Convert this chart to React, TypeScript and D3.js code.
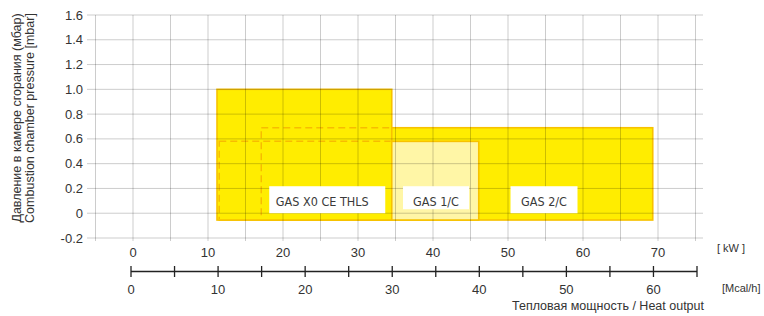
import React, { useRef, useEffect } from "react";
import * as d3 from "d3";

// burner working fields
const models = ["GAS 2/C", "GAS 1/C", "GAS X0 CE THLS"];
const minKw = [17.1, 11.5, 11.2];
const maxKw = [69.3, 46.1, 34.5];
const minP = [-0.055, -0.055, -0.055];
const maxP = [0.69, 0.58, 1.0];
const labelKw = [54.8, 40.4, 25.9];

const kwTicks = [0, 10, 20, 30, 40, 50, 60, 70];
const kwGrid = d3.range(-5, 80, 5);
const pTicks = [-0.2, 0, 0.2, 0.4, 0.6, 0.8, 1.0, 1.2, 1.4, 1.6];
const mcalTicks = d3.range(0, 70, 5);
const mcalLabels = [0, 10, 20, 30, 40, 50, 60];

const App = () => {
  const svgRef = useRef<SVGSVGElement>(null);

  useEffect(() => {
    document.body.style.margin = "0";
    const svg = d3.select(svgRef.current);
    svg.selectAll("*").remove();

    const x = d3.scaleLinear().domain([0, 70]).range([133, 658]);
    const y = d3.scaleLinear().domain([-0.2, 1.6]).range([238, 15]);
    const xm = d3.scaleLinear().domain([0, 65]).range([131, 697]);

    const font = "'Liberation Sans', Arial, sans-serif";
    const narrow = "'Liberation Sans Narrow', 'DejaVu Sans Condensed', sans-serif";

    const rectOf = (i: number) => ({
      x: x(minKw[i]),
      y: y(maxP[i]),
      w: x(maxKw[i]) - x(minKw[i]),
      h: y(minP[i]) - y(maxP[i]),
    });

    const fills = ["#ffed00", "#fff6a6", "#ffed00"];
    const fields = svg.append("g");
    models.forEach((m, i) => {
      const r = rectOf(i);
      fields
        .append("rect")
        .attr("x", r.x)
        .attr("y", r.y)
        .attr("width", r.w)
        .attr("height", r.h)
        .attr("fill", fills[i])
        .attr("stroke", "#f7c200")
        .attr("stroke-width", 1.6);
    });

    // hidden outlines inside the biggest field
    const top = rectOf(2);
    svg
      .append("clipPath")
      .attr("id", "x0clip")
      .append("rect")
      .attr("x", top.x + 1)
      .attr("y", top.y + 1)
      .attr("width", top.w - 2)
      .attr("height", top.h - 2);
    const dashed = svg.append("g").attr("clip-path", "url(#x0clip)");
    [0, 1].forEach((i) => {
      const r = rectOf(i);
      dashed
        .append("rect")
        .attr("x", r.x)
        .attr("y", r.y)
        .attr("width", r.w)
        .attr("height", r.h)
        .attr("fill", "none")
        .attr("stroke", "#f7bc00")
        .attr("stroke-width", 1.5)
        .attr("stroke-dasharray", "7,4");
    });

    // grid
    const grid = svg.append("g").attr("stroke", "#000").attr("stroke-opacity", 0.2);
    grid
      .selectAll("line.h")
      .data(pTicks)
      .enter()
      .append("line")
      .attr("x1", 87)
      .attr("x2", 703)
      .attr("y1", (d) => y(d))
      .attr("y2", (d) => y(d));
    grid
      .selectAll("line.v")
      .data(kwGrid)
      .enter()
      .append("line")
      .attr("x1", (d) => x(d))
      .attr("x2", (d) => x(d))
      .attr("y1", y(1.6))
      .attr("y2", y(-0.2) + 3);

    // y labels
    svg
      .append("g")
      .selectAll("text")
      .data(pTicks)
      .enter()
      .append("text")
      .attr("x", 83)
      .attr("y", (d) => y(d) + 4.5)
      .attr("text-anchor", "end")
      .attr("font-family", font)
      .attr("font-size", 13)
      .attr("fill", "#333")
      .text((d) => (d === 0 ? "0" : d.toFixed(1)));

    const yTitle = svg
      .append("text")
      .attr("transform", "translate(21,118) rotate(-90)")
      .attr("text-anchor", "middle")
      .attr("font-family", font)
      .attr("font-size", 12.5)
      .attr("fill", "#333");
    yTitle.append("tspan").attr("x", 0).attr("y", 0).text("Давление в камере сгорания (мбар)");
    yTitle.append("tspan").attr("x", 0).attr("y", 13).text("Combustion chamber pressure [mbar]");

    // kW labels
    svg
      .append("g")
      .selectAll("text")
      .data(kwTicks)
      .enter()
      .append("text")
      .attr("x", (d) => x(d))
      .attr("y", 257)
      .attr("text-anchor", "middle")
      .attr("font-family", font)
      .attr("font-size", 13)
      .attr("fill", "#333")
      .text((d) => d);
    svg
      .append("text")
      .attr("x", 717)
      .attr("y", 252)
      .attr("font-family", font)
      .attr("font-size", 11)
      .attr("fill", "#333")
      .text("[ kW ]");

    // Mcal/h axis
    const ax = svg.append("g").attr("stroke", "#222").attr("stroke-width", 1.3);
    ax.append("line").attr("x1", xm(0)).attr("x2", xm(65)).attr("y1", 271.5).attr("y2", 271.5);
    ax.selectAll("line.t")
      .data(mcalTicks)
      .enter()
      .append("line")
      .attr("x1", (d) => xm(d))
      .attr("x2", (d) => xm(d))
      .attr("y1", 266)
      .attr("y2", 277);
    svg
      .append("g")
      .selectAll("text")
      .data(mcalLabels)
      .enter()
      .append("text")
      .attr("x", (d) => xm(d))
      .attr("y", 294)
      .attr("text-anchor", "middle")
      .attr("font-family", font)
      .attr("font-size", 13)
      .attr("fill", "#333")
      .text((d) => d);
    svg
      .append("text")
      .attr("x", 722)
      .attr("y", 292)
      .attr("font-family", font)
      .attr("font-size", 11)
      .attr("fill", "#333")
      .text("[Mcal/h]");
    svg
      .append("text")
      .attr("x", 704)
      .attr("y", 310)
      .attr("text-anchor", "end")
      .attr("font-family", font)
      .attr("font-size", 12.5)
      .attr("fill", "#333")
      .text("Тепловая мощность / Heat output");

    // model labels
    const boxW = [67, 66, 116];
    const boxH = [27, 23, 27];
    models.forEach((m, i) => {
      const cx = x(labelKw[i]);
      svg
        .append("rect")
        .attr("x", cx - boxW[i] / 2)
        .attr("y", y(0) - 27)
        .attr("width", boxW[i])
        .attr("height", boxH[i])
        .attr("fill", "#fff");
      svg
        .append("text")
        .attr("x", cx - (i === 2 ? 5 : 0))
        .attr("y", y(0) - 7.5)
        .attr("text-anchor", "middle")
        .attr("font-family", narrow)
        .attr("font-size", 12.5)
        .attr("fill", "#3a3a3a")
        .text(m);
    });
  }, []);

  return <svg ref={svgRef} width={764} height={316} style={{ display: "block" }}></svg>;
};

export default App;
